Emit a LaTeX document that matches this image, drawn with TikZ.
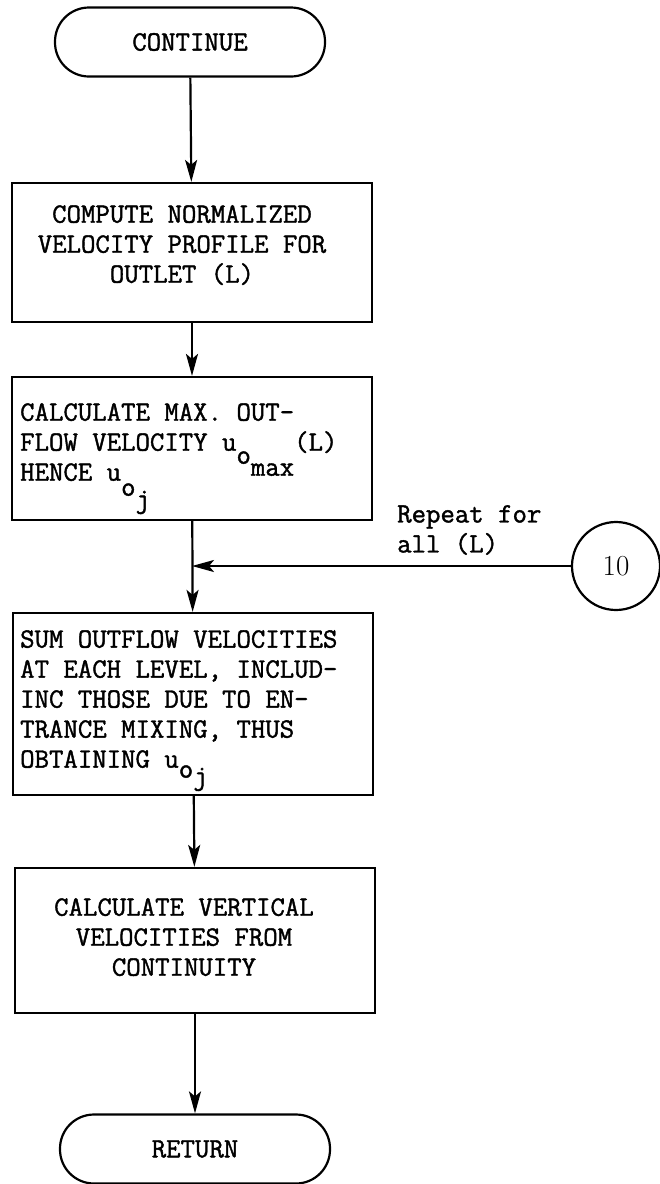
\documentclass[tikz,border=0pt]{standalone}
\usepackage{fontspec}
\usepackage{tikz}
\usetikzlibrary{arrows.meta}
\newfontfamily\typew{Latin Modern Mono}[FakeBold=1.4]

\tikzset{
  proc/.style={draw, line width=2.2pt, minimum width=360pt, inner sep=0pt},
  term/.style={draw, line width=2.2pt, rounded corners=34pt, minimum width=270pt,
    minimum height=69pt, font=\typew\bfseries\fontsize{28}{30}\selectfont},
  txt/.style={inner sep=0pt, font=\typew\bfseries\fontsize{28}{30}\selectfont},
  flow/.style={line width=2.2pt, -{Stealth[length=22pt,width=12pt,inset=5pt]}}
}

\begin{document}
\begin{tikzpicture}[x=1pt, y=-1pt]
        \useasboundingbox (0,0) rectangle (660,1184);
        % start / end
        \node[term] (cont) at (190,42) {CONTINUE};
        \node[term] (ret) at (195,1149) {RETURN};
        % boxes
        \node[proc, minimum height=139pt] (b1) at (192,252.5) {};
        \node[proc, minimum height=143pt] (b2) at (192,448.5) {};
        \node[proc, minimum height=182pt] (b3) at (193,704) {};
        \node[proc, minimum height=145pt] (b4) at (195,940.5) {};
        % box texts
        \node[txt, align=center, anchor=north] (t1) at (182,205)
          {COMPUTE NORMALIZED\\VELOCITY PROFILE FOR\\OUTLET (L)};
        \node[txt, align=left, anchor=north west] (t2) at (20,403)
          {CALCULATE MAX. OUT-\\
           FLOW VELOCITY u\smash{\raisebox{-13pt}{o}}\smash{\raisebox{-25pt}{max}}(L)\\
           HENCE u\smash{\raisebox{-15pt}{o}}\smash{\raisebox{-27pt}{j}}};
        \node[txt, align=left, anchor=north west] (t3) at (20,630)
          {SUM OUTFLOW VELOCITIES\\AT EACH LEVEL, INCLUD-\\INC THOSE DUE TO EN-\\
           TRANCE MIXING, THUS\\
           OBTAINING u\smash{\raisebox{-10pt}{o}}\smash{\raisebox{-17pt}{j}}};
        \node[txt, align=center, anchor=north] (t4) at (184,898)
          {CALCULATE VERTICAL\\VELOCITIES FROM\\CONTINUITY};
        % loop connector
        \node[circle, draw, line width=2.2pt, minimum size=88pt, inner sep=0pt,
          font=\rmfamily\fontsize{29}{30}\selectfont] (c10) at (616,566) {10};
        \node[txt, align=left, anchor=north west] (rep) at (397,505) {Repeat for\\all (L)};
        \coordinate (j) at (192,566);
        \draw[flow] (cont) -- (b1);
        \draw[flow] (b1) -- (b2);
        \draw[flow] (b2) -- (b3);
        \draw[flow] (c10) -- (j);
        \draw[flow] (b3) -- (b4);
        \draw[flow] (b4) -- (ret);
\end{tikzpicture}
\end{document}
